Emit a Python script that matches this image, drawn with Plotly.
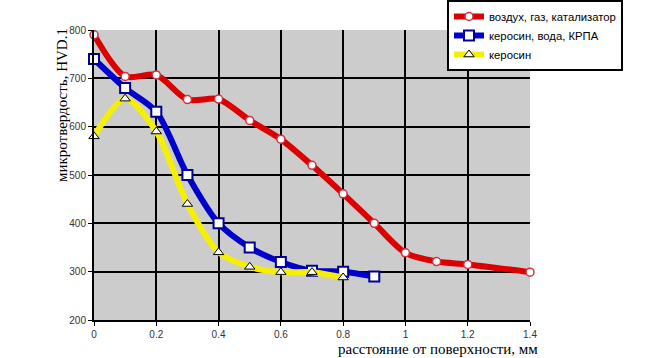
import plotly.graph_objects as go

x_red = [0, 0.1, 0.2, 0.3, 0.4, 0.5, 0.6, 0.7, 0.8, 0.9, 1.0, 1.1, 1.2, 1.4]
y_red = [790, 704, 707, 656, 657, 613, 574, 520, 461, 400, 339, 321, 315, 299]

x_blue = [0, 0.1, 0.2, 0.3, 0.4, 0.5, 0.6, 0.7, 0.8, 0.9]
y_blue = [740, 680, 631, 500, 400, 350, 320, 302, 300, 290]

x_yel = [0, 0.1, 0.2, 0.3, 0.4, 0.5, 0.6, 0.7, 0.8]
y_yel = [580, 658, 590, 440, 340, 310, 299, 299, 288]

names = ["воздух, газ, катализатор", "керосин, вода, КРПА", "керосин"]

x_ticks = [0, 0.2, 0.4, 0.6, 0.8, 1, 1.2, 1.4]
x_tick_text = ["0", "0.2", "0.4", "0.6", "0.8", "1", "1.2", "1.4"]
y_ticks = [200, 300, 400, 500, 600, 700, 800]

fig = go.Figure()
fig.add_trace(go.Scatter(
    x=x_red, y=y_red, name=names[0], mode="lines+markers",
    line=dict(color="#dd0000", width=6, shape="spline", smoothing=0.8),
    marker=dict(symbol="circle", size=8, color="white", line=dict(color="#cc3344", width=1.5)),
    cliponaxis=False))
fig.add_trace(go.Scatter(
    x=x_blue, y=y_blue, name=names[1], mode="lines+markers",
    line=dict(color="#0000cc", width=6, shape="spline", smoothing=0.8),
    marker=dict(symbol="square", size=10, color="white", line=dict(color="#000099", width=2)),
    cliponaxis=False))
fig.add_trace(go.Scatter(
    x=x_yel, y=y_yel, name=names[2], mode="lines+markers",
    line=dict(color="#f5f000", width=6, shape="spline", smoothing=0.8),
    marker=dict(symbol="triangle-up", size=9, color="white", line=dict(color="#000000", width=1)),
    cliponaxis=False))

fig.update_layout(
    width=660, height=358,
    margin=dict(l=94, r=130, t=30, b=38, autoexpand=False),
    paper_bgcolor="white", plot_bgcolor="#cccccc",
    showlegend=True,
    legend=dict(x=447 / 660, y=1.0, xref="container", yref="container",
                xanchor="left", yanchor="top",
                bgcolor="white", bordercolor="black", borderwidth=2,
                font=dict(family="Arial, Liberation Sans", size=11.3, color="black"),
                itemwidth=30, tracegroupgap=0),
    xaxis=dict(range=[0, 1.4], tickvals=x_ticks, ticktext=x_tick_text,
               showgrid=True, gridcolor="black", gridwidth=2,
               showline=True, linecolor="black", linewidth=2,
               ticks="outside", ticklen=4, tickcolor="black",
               tickfont=dict(family="Arial, Liberation Sans", size=10, color="#333333"),
               zeroline=False, automargin=False),
    yaxis=dict(range=[200, 800], tickvals=y_ticks,
               showgrid=True, gridcolor="black", gridwidth=2,
               showline=True, linecolor="black", linewidth=2,
               ticks="outside", ticklen=4, tickcolor="black",
               tickfont=dict(family="Arial, Liberation Sans", size=10, color="#333333"),
               zeroline=False, automargin=False),
    annotations=[
        dict(text="микротвердость, HVD.1", textangle=-90, xref="paper", yref="paper",
             x=-(94 - 62) / 436, y=(320 - 105) / 290, xanchor="center", yanchor="middle",
             showarrow=False,
             font=dict(family="Liberation Serif, Times New Roman, serif", size=15, color="black")),
        dict(text="расстояние от поверхности, мм", xref="paper", yref="paper",
             x=(438 - 94) / 436, y=-(349 - 320) / 290, xanchor="center", yanchor="middle",
             showarrow=False,
             font=dict(family="Liberation Serif, Times New Roman, serif", size=15, color="black")),
    ],
)

fig.write_html("out.html")
